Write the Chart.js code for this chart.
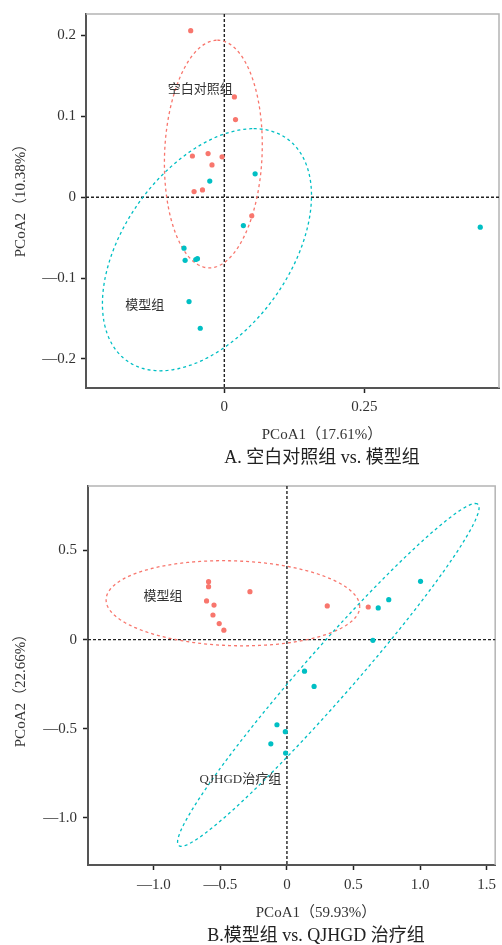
<!DOCTYPE html>
<html lang="zh">
<head>
<meta charset="UTF-8">
<title>PCoA 分析</title>
<script src="https://cdn.jsdelivr.net/npm/chart.js@4.4.1/dist/chart.umd.min.js"></script>
<style>
    body { margin: 0; background: #fff; }
    #wrap { position: relative; width: 502px; height: 945px; }
    .pane { position: absolute; left: 0; }
    .txt { position: absolute; white-space: nowrap; color: #333; transform: translate(-50%, -50%);
           font-family: 'Liberation Serif', 'Noto Sans CJK SC', serif; }
    .ytitle { transform: translate(-50%, -50%) rotate(-90deg); }
    .axt { font-size: 15px; }
    .cap { font-size: 18px; color: #222; }
</style>
</head>
<body>
<div id="wrap">
    <div class="pane" style="top:0"><canvas id="pcoaA" width="502" height="470"></canvas></div>
    <div class="pane" style="top:470px"><canvas id="pcoaB" width="502" height="475"></canvas></div>

    <div class="txt axt ytitle" style="left:18px;top:197px">PCoA2（10.38%）</div>
    <div class="txt axt" style="left:322px;top:432px">PCoA1（17.61%）</div>
    <div class="txt cap" style="left:322px;top:455px">A. 空白对照组 vs. 模型组</div>

    <div class="txt axt ytitle" style="left:18px;top:687px">PCoA2（22.66%）</div>
    <div class="txt axt" style="left:316px;top:910px">PCoA1（59.93%）</div>
    <div class="txt cap" style="left:316px;top:933px">B.模型组 vs. QJHGD 治疗组</div>
</div>

<script>
// ---- A: 空白对照组 vs 模型组 ----
const ctrlA_x  = [-0.060, 0.018, 0.020, -0.057, -0.029, -0.004, -0.022, -0.054, -0.039, 0.049];
const ctrlA_y  = [0.206, 0.124, 0.096, 0.051, 0.054, 0.050, 0.040, 0.007, 0.009, -0.023];
const modelA_x = [0.055, -0.026, 0.034, 0.457, -0.072, -0.070, -0.051, -0.048, -0.063, -0.043];
const modelA_y = [0.029, 0.020, -0.035, -0.037, -0.063, -0.078, -0.077, -0.076, -0.129, -0.162];
const xTicksA = [0, 0.25];
const xLabelsA = ['0', '0.25'];
const yTicksA = [-0.2, -0.1, 0, 0.1, 0.2];
const yLabelsA = ['—0.2', '—0.1', '0', '0.1', '0.2'];

// ---- B: 模型组 vs QJHGD治疗组 ----
const modelB_x = [-0.589, -0.589, -0.604, -0.548, -0.556, -0.509, -0.474, -0.278, 0.303, 0.611];
const modelB_y = [0.325, 0.297, 0.217, 0.194, 0.138, 0.090, 0.053, 0.269, 0.189, 0.183];
const qjhgdB_x = [1.004, 0.765, 0.686, 0.646, 0.132, 0.204, -0.075, -0.012, -0.121, -0.010];
const qjhgdB_y = [0.327, 0.224, 0.178, -0.004, -0.177, -0.263, -0.478, -0.517, -0.585, -0.637];
const xTicksB = [-1.0, -0.5, 0, 0.5, 1.0, 1.5];
const xLabelsB = ['—1.0', '—0.5', '0', '0.5', '1.0', '1.5'];
const yTicksB = [-1.0, -0.5, 0, 0.5];
const yLabelsB = ['—1.0', '—0.5', '0', '0.5'];

// 置信椭圆: 中心 + 两个共轭半径向量 (数据坐标)
const ellipsesA = [
    { cx: -0.0196, cy: 0.0534, a: [0.0071, 0.1408], b: [0.0871, 0], color: '#F8766D' },
    { cx: -0.031, cy: -0.0649, a: [0.0834, 0.1497], b: [0.167, 0], color: '#00BFC4' }
];
const ellipsesB = [
    { cx: -0.406, cy: 0.204, a: [0.953, -0.019], b: [0, 0.238], color: '#F8766D' },
    { cx: 0.311, cy: -0.198, a: [1.105, 0.962], b: [0.250, 0], color: '#00BFC4' }
];
const groupLabelsA = [
    { text: '空白对照组', x: -0.043, y: 0.133 },
    { text: '模型组', x: -0.142, y: -0.134 }
];
const groupLabelsB = [
    { text: '模型组', x: -0.931, y: 0.241 },
    { text: 'QJHGD治疗组', x: -0.350, y: -0.786 }
];

const RED = '#F8766D';
const TEAL = '#00BFC4';
const serif = "'Liberation Serif', 'DejaVu Serif', serif";

function toPoints(xs, ys) {
    return xs.map((x, i) => ({ x: x, y: ys[i] }));
}

// 零线、边框、椭圆和组标签
const pcoaExtras = {
    id: 'pcoaExtras',
    beforeDatasetsDraw(chart, args, opts) {
        const ctx = chart.ctx, ca = chart.chartArea;
        const sx = chart.scales.x, sy = chart.scales.y;
        ctx.save();
        // 上、右边框
        ctx.strokeStyle = '#b4b4b4';
        ctx.lineWidth = 1.5;
        ctx.beginPath();
        ctx.moveTo(ca.left, ca.top);
        ctx.lineTo(ca.right, ca.top);
        ctx.lineTo(ca.right, ca.bottom);
        ctx.stroke();
        // 零线
        ctx.strokeStyle = '#222';
        ctx.lineWidth = 1.4;
        ctx.setLineDash([3, 2]);
        const x0 = sx.getPixelForValue(0), y0 = sy.getPixelForValue(0);
        ctx.beginPath();
        ctx.moveTo(ca.left, y0); ctx.lineTo(ca.right, y0);
        ctx.moveTo(x0, ca.top); ctx.lineTo(x0, ca.bottom);
        ctx.stroke();
        // 椭圆
        ctx.lineWidth = 1.3;
        ctx.setLineDash([3, 3]);
        opts.ellipses.forEach(e => {
            ctx.strokeStyle = e.color;
            ctx.beginPath();
            for (let i = 0; i <= 240; i++) {
                const t = 2 * Math.PI * i / 240;
                const dx = e.cx + e.a[0] * Math.cos(t) + e.b[0] * Math.sin(t);
                const dy = e.cy + e.a[1] * Math.cos(t) + e.b[1] * Math.sin(t);
                const px = sx.getPixelForValue(dx), py = sy.getPixelForValue(dy);
                if (i === 0) ctx.moveTo(px, py); else ctx.lineTo(px, py);
            }
            ctx.stroke();
        });
        ctx.restore();
    },
    afterDatasetsDraw(chart, args, opts) {
        const ctx = chart.ctx;
        const sx = chart.scales.x, sy = chart.scales.y;
        ctx.save();
        ctx.font = "13px 'Liberation Serif', 'Noto Sans CJK SC', sans-serif";
        ctx.fillStyle = '#333';
        ctx.textAlign = 'center';
        ctx.textBaseline = 'middle';
        opts.labels.forEach(l => {
            ctx.fillText(l.text, sx.getPixelForValue(l.x), sy.getPixelForValue(l.y));
        });
        ctx.restore();
    }
};

function axis(min, max, ticks, labels, pad, size, isX) {
    return {
        type: 'linear',
        min: min,
        max: max,
        afterBuildTicks: s => { s.ticks = ticks.map(v => ({ value: v })); },
        afterFit: s => { if (isX) s.height = size; else s.width = size; },
        ticks: {
            callback: (v, i) => labels[i],
            color: '#333',
            font: { family: serif, size: 15 },
            padding: pad,
            autoSkip: false,
            maxRotation: 0
        },
        grid: {
            display: true,
            drawOnChartArea: false,
            drawTicks: true,
            tickLength: 5,
            tickColor: '#222',
            tickWidth: 1.5
        },
        border: { display: true, color: '#555', width: 2 }
    };
}

function makeChart(id, sets, scales, padding, extras) {
    return new Chart(document.getElementById(id), {
        type: 'scatter',
        data: {
            datasets: sets.map(s => ({
                label: s.label,
                data: s.data,
                backgroundColor: s.color,
                borderWidth: 0,
                pointRadius: 2.6,
                pointHoverRadius: 2.6
            }))
        },
        options: {
            responsive: false,
            animation: false,
            layout: { padding: padding },
            scales: scales,
            plugins: {
                legend: { display: false },
                tooltip: { enabled: false },
                pcoaExtras: extras
            }
        },
        plugins: [pcoaExtras]
    });
}

makeChart('pcoaA',
    [
        { label: '空白对照组', data: toPoints(ctrlA_x, ctrlA_y), color: RED },
        { label: '模型组', data: toPoints(modelA_x, modelA_y), color: TEAL }
    ],
    {
        x: axis(-0.247, 0.4905, xTicksA, xLabelsA, 5, 82, true),
        y: axis(-0.2359, 0.2266, yTicksA, yLabelsA, 5, 86, false)
    },
    { top: 10, right: 3, left: 0, bottom: 0 },
    { ellipses: ellipsesA, labels: groupLabelsA }
);

makeChart('pcoaB',
    [
        { label: '模型组', data: toPoints(modelB_x, modelB_y), color: RED },
        { label: 'QJHGD治疗组', data: toPoints(qjhgdB_x, qjhgdB_y), color: TEAL }
    ],
    {
        x: axis(-1.495, 1.565, xTicksB, xLabelsB, 6, 80, true),
        y: axis(-1.265, 0.862, yTicksB, yLabelsB, 6, 88, false)
    },
    { top: 16, right: 4, left: 0, bottom: 0 },
    { ellipses: ellipsesB, labels: groupLabelsB }
);
</script>
</body>
</html>
